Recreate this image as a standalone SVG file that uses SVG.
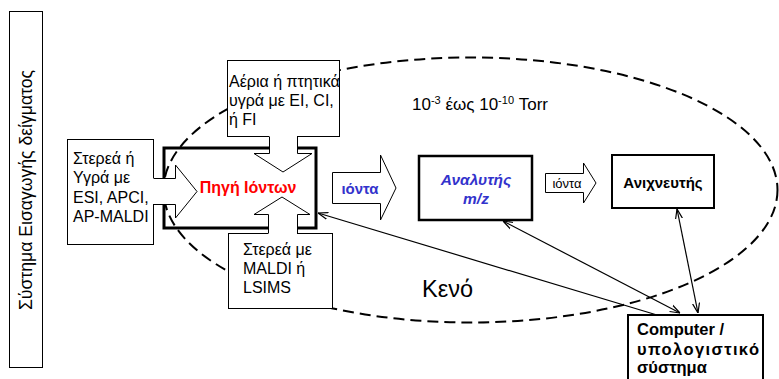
<svg xmlns="http://www.w3.org/2000/svg" width="779" height="379" viewBox="0 0 779 379">
<defs>
<marker id="ah" viewBox="0 0 10 10" refX="10" refY="5" markerWidth="10" markerHeight="10" markerUnits="userSpaceOnUse" orient="auto-start-reverse">
<path d="M0,1.5 L10,5 L0,8.5" fill="none" stroke="#000" stroke-width="1.2"/>
</marker>
</defs>
<style>
text{font-family:"Liberation Sans",Arial,sans-serif;fill:#000}
.t16{font-size:16px}
.thin{fill:#fff;stroke:#000;stroke-width:1}
.conn{fill:none;stroke:#000;stroke-width:1.2}
.blue{fill:#3333cc;font-weight:bold}
</style>
<rect width="779" height="379" fill="#fff"/>

<g id="sample-intro">
<rect x="9.5" y="11.5" width="33" height="356" class="thin"/>
<text transform="translate(32,190) rotate(-90)" text-anchor="middle" font-size="17.6">Σύστημα Εισαγωγής δείγματος</text>
</g>

<g id="ion-source">
<rect x="164" y="148" width="152" height="80" fill="#fff" stroke="#000" stroke-width="3"/>
</g>

<g id="vacuum">
<ellipse cx="470.5" cy="190" rx="307" ry="132.5" fill="none" stroke="#000" stroke-width="2" stroke-dasharray="11 6"/>
<text x="412" y="110" font-size="17">10<tspan font-size="11" dy="-6">-3</tspan><tspan dy="6"> έως 10</tspan><tspan font-size="11" dy="-6">-10</tspan><tspan dy="6"> Torr</tspan></text>
<text x="422" y="297" font-size="23.5">Κενό</text>
</g>

<g id="ion-source-label">
<text x="248" y="193" text-anchor="middle" font-size="16" font-weight="bold" style="fill:#ff0000">Πηγή Ιόντων</text>
</g>

<g id="input-left">
<rect x="67.5" y="139.5" width="86" height="105" class="thin"/>
<path d="M153,178 L175,178 L175,165 L197,191.5 L175,218 L175,204 L153,204 Z" fill="#fff"/>
<path d="M153.5,178.5 L175.5,178.5 L175.5,165 L197,191.5 L175.5,218 L175.5,204.5 L153.5,204.5" fill="none" stroke="#000" stroke-width="1"/>
<text class="t16" x="73" y="164">Στερεά ή</text>
<text class="t16" x="73" y="183">Υγρά με</text>
<text class="t16" x="73" y="203">ESI, APCI,</text>
<text class="t16" x="73" y="222">AP-MALDI</text>
</g>

<g id="input-top">
<rect x="227.5" y="60.5" width="112" height="76" class="thin"/>
<path d="M269,136 L269,153 L254,153 L283,172 L312,153 L297,153 L297,136 Z" fill="#fff"/>
<path d="M269.5,136.5 L269.5,153.5 L254,153.5 L283,172 L312,153.5 L297.5,153.5 L297.5,136.5" fill="none" stroke="#000" stroke-width="1"/>
<text class="t16" x="229" y="87">Αέρια ή πτητικά</text>
<text class="t16" x="229" y="106">υγρά με EI, CI,</text>
<text class="t16" x="229" y="125">ή FI</text>
</g>

<g id="input-bottom">
<rect x="228.5" y="233.5" width="104" height="75" class="thin"/>
<path d="M268,234 L268,214 L254,214 L282,197 L310,214 L297,214 L297,234 Z" fill="#fff"/>
<path d="M268.5,233.5 L268.5,214.5 L254,214.5 L282,197 L310,214.5 L297.5,214.5 L297.5,233.5" fill="none" stroke="#000" stroke-width="1"/>
<text class="t16" x="243" y="255">Στερεά με</text>
<text class="t16" x="243" y="274">MALDI ή</text>
<text class="t16" x="243" y="293">LSIMS</text>
</g>

<g id="ions-arrow-1">
<path d="M332.5,172.5 L380.5,172.5 L380.5,155 L396,188 L380.5,220 L380.5,203.5 L332.5,203.5 Z" class="thin"/>
<text x="360" y="194" text-anchor="middle" font-size="15" class="blue">ιόντα</text>
</g>

<g id="analyzer">
<rect x="419" y="156" width="113" height="64" fill="#fff" stroke="#000" stroke-width="2.5"/>
<text x="476" y="185" text-anchor="middle" font-size="15.5" font-style="italic" class="blue">Αναλυτής</text>
<text x="476" y="204" text-anchor="middle" font-size="15.5" font-style="italic" class="blue">m/z</text>
</g>

<g id="ions-arrow-2">
<path d="M545.5,173.5 L583.5,173.5 L583.5,163 L596,183 L583.5,203 L583.5,192.5 L545.5,192.5 Z" class="thin"/>
<text x="567" y="188" text-anchor="middle" font-size="13">ιόντα</text>
</g>

<g id="detector">
<rect x="612" y="155" width="102" height="53" fill="#fff" stroke="#000" stroke-width="2"/>
<text x="663" y="188" text-anchor="middle" font-size="15" font-weight="bold">Ανιχνευτής</text>
</g>

<g id="connectors">
<line x1="657" y1="315" x2="318" y2="213" class="conn" marker-end="url(#ah)"/>
<line x1="503" y1="221" x2="680" y2="313" class="conn" marker-start="url(#ah)" marker-end="url(#ah)"/>
<line x1="677" y1="209" x2="698" y2="313" class="conn" marker-start="url(#ah)" marker-end="url(#ah)"/>
</g>

<g id="computer">
<rect x="628" y="315" width="135" height="80" fill="#fff" stroke="#000" stroke-width="2"/>
<text x="637" y="335" font-size="16.5" font-weight="bold">Computer /</text>
<text x="637" y="355" font-size="16.5" font-weight="bold" textLength="122" lengthAdjust="spacing">υπολογιστικό</text>
<text x="637" y="373" font-size="16.5" font-weight="bold">σύστημα</text>
</g>
</svg>
